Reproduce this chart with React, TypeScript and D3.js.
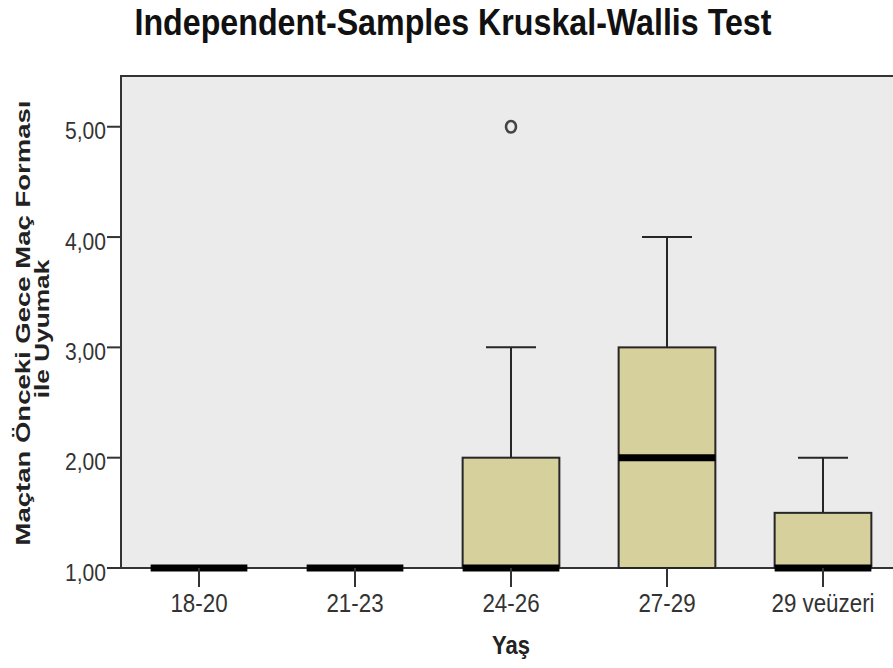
import React from "react";
import * as d3 from "d3";

const categories = ["18-20", "21-23", "24-26", "27-29", "29 veüzeri"];
const q1Values = [1, 1, 1, 1, 1];
const medianValues = [1, 1, 1, 2, 1];
const q3Values = [1, 1, 2, 3, 1.5];
const whiskerLow = [1, 1, 1, 1, 1];
const whiskerHigh = [1, 1, 3, 4, 2];
const outliers: { cat: string; value: number }[] = [{ cat: "24-26", value: 5 }];
const yTicks = [1, 2, 3, 4, 5];

const W = 893;
const H = 668;
const left = 121;
const top = 76;
const bottom = 568;
const right = 901;

export default function App() {
  const x = d3.scaleBand<string>().domain(categories).range([left, right]).padding(0);
  const y = d3.scaleLinear().domain([1, 5.46]).range([bottom, top]);
  const bw = x.bandwidth();
  const boxW = bw * 0.62;
  const capW = 50;
  const cx = (c: string) => (x(c) as number) + bw / 2;
  const fmt = (v: number) => v.toFixed(2).replace(".", ",");
  const stroke = "#262626";

  return (
    <svg
      width={W}
      height={H}
      style={{ position: "absolute", left: 0, top: 0, background: "#fff" }}
      fontFamily="'Liberation Sans', Arial, sans-serif"
    >
      <rect x={0} y={0} width={W} height={H} fill="#fff" />
      {/* title */}
      <text
        x={453}
        y={35}
        textAnchor="middle"
        fontSize={37}
        fontWeight="bold"
        textLength={637}
        lengthAdjust="spacingAndGlyphs"
        fill="#111"
      >
        Independent-Samples Kruskal-Wallis Test
      </text>
      {/* plot area */}
      <rect x={left} y={top} width={right - left} height={bottom - top} fill="#ebebeb" stroke="#333" strokeWidth={2} />

      {/* y ticks */}
      {yTicks.map((t) => (
        <g key={t}>
          <line x1={107} x2={left} y1={y(t)} y2={y(t)} stroke="#333" strokeWidth={2} />
          <text
            x={106}
            y={y(t) + 12.5}
            textAnchor="end"
            fontSize={23.5}
            textLength={41}
            lengthAdjust="spacingAndGlyphs"
            fill="#333"
          >
            {fmt(t)}
          </text>
        </g>
      ))}

      {/* boxes */}
      {categories.map((c, i) => {
        const xc = cx(c);
        const hasBox = q3Values[i] > q1Values[i];
        return (
          <g key={c}>
            {whiskerHigh[i] > q3Values[i] && (
              <>
                <line x1={xc} x2={xc} y1={y(q3Values[i])} y2={y(whiskerHigh[i])} stroke={stroke} strokeWidth={2} />
                <line x1={xc - capW / 2} x2={xc + capW / 2} y1={y(whiskerHigh[i])} y2={y(whiskerHigh[i])} stroke={stroke} strokeWidth={2} />
              </>
            )}
            {whiskerLow[i] < q1Values[i] && (
              <>
                <line x1={xc} x2={xc} y1={y(q1Values[i])} y2={y(whiskerLow[i])} stroke={stroke} strokeWidth={2} />
                <line x1={xc - capW / 2} x2={xc + capW / 2} y1={y(whiskerLow[i])} y2={y(whiskerLow[i])} stroke={stroke} strokeWidth={2} />
              </>
            )}
            {hasBox && (
              <rect
                x={xc - boxW / 2}
                y={y(q3Values[i])}
                width={boxW}
                height={y(q1Values[i]) - y(q3Values[i])}
                fill="#d5d09c"
                stroke={stroke}
                strokeWidth={2}
              />
            )}
            <line
              x1={xc - boxW / 2}
              x2={xc + boxW / 2}
              y1={y(medianValues[i])}
              y2={y(medianValues[i])}
              stroke="#000"
              strokeWidth={7}
            />
          </g>
        );
      })}

      {/* outliers */}
      {outliers.map((o, i) => (
        <ellipse key={i} cx={cx(o.cat)} cy={y(o.value)} rx={5} ry={5.8} fill="none" stroke="#444" strokeWidth={2.6} />
      ))}

      {/* x ticks */}
      {categories.map((c) => (
        <g key={c}>
          <line x1={cx(c)} x2={cx(c)} y1={bottom} y2={587} stroke="#333" strokeWidth={2} />
          <text
            transform={`translate(${cx(c)},612) scale(0.86,1)`}
            textAnchor="middle"
            fontSize={26}
            fill="#333"
          >
            {c}
          </text>
        </g>
      ))}

      {/* axis titles */}
      <text transform={`translate(511,654) scale(0.88,1)`} textAnchor="middle" fontSize={25} fontWeight="bold" fill="#222">
        Yaş
      </text>
      <g transform={`translate(30,${(top + bottom) / 2 + 1}) rotate(-90)`}>
        <text x={0} y={0} textAnchor="middle" fontSize={21} fontWeight="bold" textLength={445} lengthAdjust="spacingAndGlyphs" fill="#222">
          Maçtan Önceki Gece Maç Forması
        </text>
      </g>
      <g transform={`translate(49,${(top + bottom) / 2 + 7}) rotate(-90) scale(1.25,1)`}>
        <text x={0} y={0} textAnchor="middle" fontSize={21} fontWeight="bold" fill="#222">
          ile Uyumak
        </text>
      </g>
    </svg>
  );
}
